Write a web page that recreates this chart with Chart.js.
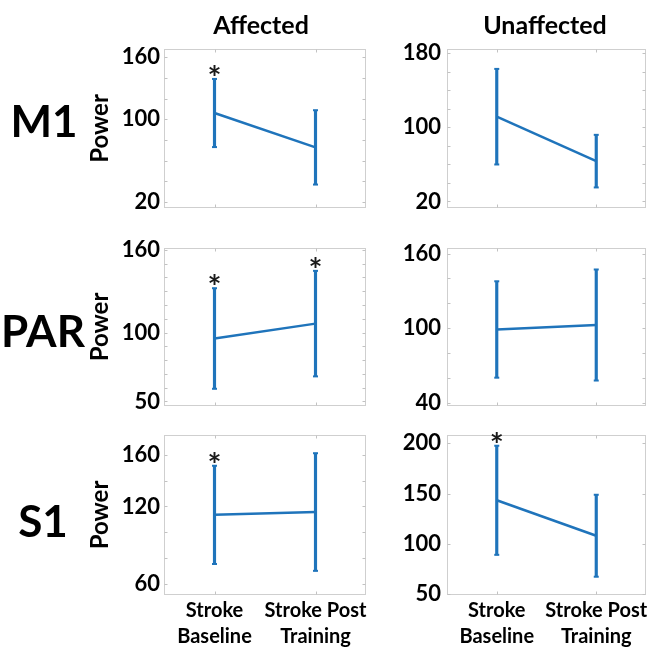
<!DOCTYPE html>
<html>
<head>
<meta charset="utf-8">
<script src="https://cdn.jsdelivr.net/npm/chart.js@4.4.1/dist/chart.umd.min.js"></script>
<style>
  html, body { margin: 0; padding: 0; background: #fff; }
  body { width: 652px; height: 650px; position: relative; overflow: hidden; font-family: Lato, "Open Sans", sans-serif; color: #000; }
  .txt { position: absolute; white-space: nowrap; line-height: 1; font-weight: 700; text-align: center; }
  canvas { position: absolute; }
</style>
</head>
<body>
<div id="stage"></div>
<script>
// Session labels on the x axis
const conditions = [['Stroke', 'Baseline'], ['Stroke Post', 'Training']];
const regions = ['M1', 'PAR', 'S1'];
const sides = ['Affected', 'Unaffected'];

// Mean power and standard deviation: [baseline, post training]
const m1AffectedMean = [106.1, 72.8];
const m1AffectedSd = [33.0, 36.0];
const m1UnaffectedMean = [111.5, 63.5];
const m1UnaffectedSd = [51.6, 28.4];
const parAffectedMean = [95.7, 106.5];
const parAffectedSd = [36.5, 38.3];
const parUnaffectedMean = [98.9, 102.5];
const parUnaffectedSd = [38.8, 44.7];
const s1AffectedMean = [113.5, 115.7];
const s1AffectedSd = [38.0, 45.5];
const s1UnaffectedMean = [143.3, 108.0];
const s1UnaffectedSd = [54.3, 40.8];

// Significant differences (asterisk above the bar)
const m1AffectedSig = [true, false];
const m1UnaffectedSig = [false, false];
const parAffectedSig = [true, true];
const parUnaffectedSig = [false, false];
const s1AffectedSig = [true, false];
const s1UnaffectedSig = [true, false];

// Labelled y ticks
const m1AffectedTicks = [20, 100, 160];
const m1UnaffectedTicks = [20, 100, 180];
const parAffectedTicks = [50, 100, 160];
const parUnaffectedTicks = [40, 100, 160];
const s1AffectedTicks = [60, 120, 160];
const s1UnaffectedTicks = [50, 100, 150, 200];

const BLUE = '#1f74bb';
const FONT = 'Lato';

const columns = [
  { left: 86, width: 286, axisW: 78, pad: 4, title: true, rightPad: 3 },
  { left: 372, width: 280, axisW: 75, pad: 6, title: false, rightPad: 2 }
];
const rows = [
  { top: 30, padTop: 19, boxH: 161, xH: 4, showX: false },
  { top: 228, padTop: 20, boxH: 160, xH: 4, showX: false },
  { top: 416, padTop: 19, boxH: 160, xH: 55, showX: true }
];

const panels = [
  { r: 0, c: 0, mean: m1AffectedMean, sd: m1AffectedSd, sig: m1AffectedSig, ticks: m1AffectedTicks, min: 14.1, max: 168.1, step: 20 },
  { r: 0, c: 1, mean: m1UnaffectedMean, sd: m1UnaffectedSd, sig: m1UnaffectedSig, ticks: m1UnaffectedTicks, min: 12.9, max: 184.6, step: 20 },
  { r: 1, c: 0, mean: parAffectedMean, sd: parAffectedSd, sig: parAffectedSig, ticks: parAffectedTicks, min: 46.7, max: 161.4, step: 10 },
  { r: 1, c: 1, mean: parUnaffectedMean, sd: parUnaffectedSd, sig: parUnaffectedSig, ticks: parUnaffectedTicks, min: 37.3, max: 164.5, step: 20 },
  { r: 2, c: 0, mean: s1AffectedMean, sd: s1AffectedSd, sig: s1AffectedSig, ticks: s1AffectedTicks, min: 51.5, max: 175.3, step: 20 },
  { r: 2, c: 1, mean: s1UnaffectedMean, sd: s1UnaffectedSd, sig: s1UnaffectedSig, ticks: s1UnaffectedTicks, min: 49.0, max: 208.3, step: 50 }
];

// Axes box with small inward tick marks
const framePlugin = {
  id: 'frame',
  beforeDatasetsDraw(chart, args, opts) {
    const { ctx, chartArea: a, scales: { x, y } } = chart;
    const L = Math.round(a.left) + 0.5, R = Math.round(a.right) - 0.5;
    const T = Math.round(a.top) + 0.5, B = Math.round(a.bottom) - 0.5;
    ctx.save();
    ctx.lineWidth = 1;
    ctx.strokeStyle = '#cfcfcf';
    ctx.strokeRect(L, T, R - L, B - T);
    ctx.strokeStyle = '#c2c2c2';
    ctx.beginPath();
    for (let v = Math.ceil(y.min / opts.step) * opts.step; v <= y.max; v += opts.step) {
      const py = Math.round(y.getPixelForValue(v)) + 0.5;
      ctx.moveTo(L, py); ctx.lineTo(L + 3, py);
      ctx.moveTo(R, py); ctx.lineTo(R - 3, py);
    }
    for (let i = 0; i < conditions.length; i++) {
      const px = Math.round(x.getPixelForValue(i)) + 0.5;
      ctx.moveTo(px, T); ctx.lineTo(px, T + 3);
      ctx.moveTo(px, B); ctx.lineTo(px, B - 3);
    }
    ctx.stroke();
    ctx.restore();
  }
};

// Asterisks above significant error bars
const starPlugin = {
  id: 'stars',
  afterDatasetsDraw(chart, args, opts) {
    const { ctx, scales: { x, y } } = chart;
    ctx.save();
    ctx.font = `bold 33px ${FONT}`;
    ctx.fillStyle = '#1a1a1a';
    ctx.textAlign = 'center';
    ctx.textBaseline = 'alphabetic';
    const m = ctx.measureText('*');
    const glyphMid = (m.actualBoundingBoxAscent - m.actualBoundingBoxDescent) / 2;
    opts.sig.forEach((on, i) => {
      if (!on) return;
      const px = x.getPixelForValue(i);
      const top = y.getPixelForValue(opts.mean[i] + opts.sd[i]);
      ctx.fillText('*', px, top - 9 + glyphMid);
    });
    ctx.restore();
  }
};

const stage = document.getElementById('stage');

function addText(str, size, cx, top) {
  const d = document.createElement('div');
  d.className = 'txt';
  d.textContent = str;
  d.style.fontSize = size + 'px';
  d.style.left = (cx - 100) + 'px';
  d.style.width = '200px';
  d.style.top = top + 'px';
  document.body.appendChild(d);
}

addText(sides[0], 25, 261, 12);
addText(sides[1], 25, 545, 12);
addText(regions[0], 44, 44, 97.7);
addText(regions[1], 44, 43, 307.7);
addText(regions[2], 44, 43, 497.7);

panels.forEach(p => {
  const col = columns[p.c], row = rows[p.r];
  const cv = document.createElement('canvas');
  const h = row.padTop + row.boxH + row.xH;
  cv.width = col.width; cv.height = h;
  cv.style.left = col.left + 'px';
  cv.style.top = row.top + 'px';
  cv.style.width = col.width + 'px';
  cv.style.height = h + 'px';
  stage.appendChild(cv);

  const lows = p.mean.map((m, i) => m - p.sd[i]);
  const highs = p.mean.map((m, i) => m + p.sd[i]);

  new Chart(cv.getContext('2d'), {
    type: 'bar',
    data: {
      labels: conditions,
      datasets: [
        {
          type: 'bar',
          data: lows.map((lo, i) => [lo, highs[i]]),
          backgroundColor: BLUE,
          borderWidth: 0,
          barThickness: 2.5
        },
        {
          type: 'line',
          data: lows,
          showLine: false,
          pointStyle: 'line',
          pointRadius: 2.5,
          pointBorderWidth: 2,
          pointBorderColor: BLUE,
          borderColor: BLUE
        },
        {
          type: 'line',
          data: highs,
          showLine: false,
          pointStyle: 'line',
          pointRadius: 2.5,
          pointBorderWidth: 2,
          pointBorderColor: BLUE,
          borderColor: BLUE
        },
        {
          type: 'line',
          data: p.mean,
          borderColor: BLUE,
          borderWidth: 2.5,
          pointRadius: 0,
          fill: false,
          tension: 0
        }
      ]
    },
    options: {
      responsive: false,
      animation: false,
      devicePixelRatio: 1,
      layout: { padding: { top: row.padTop, right: col.rightPad, bottom: 0, left: 0 } },
      plugins: {
        legend: { display: false },
        tooltip: { enabled: false },
        frame: { step: p.step },
        stars: { sig: p.sig, mean: p.mean, sd: p.sd }
      },
      scales: {
        x: {
          type: 'category',
          offset: true,
          afterFit: s => { s.height = row.xH; s.paddingLeft = 0; s.paddingRight = 0; },
          grid: { display: false, drawTicks: false },
          border: { display: false },
          ticks: {
            display: row.showX,
            font: { family: FONT, size: 20, weight: 'bold', lineHeight: 1.3 },
            color: '#000',
            padding: 3,
            maxRotation: 0,
            autoSkip: false
          }
        },
        y: {
          min: p.min,
          max: p.max,
          afterBuildTicks: s => { s.ticks = p.ticks.map(v => ({ value: v })); },
          afterFit: s => { s.width = col.axisW; s.paddingTop = 0; s.paddingBottom = 0; },
          grid: { display: false, drawTicks: false },
          border: { display: false },
          ticks: {
            font: { family: FONT, size: 22, weight: 'bold' },
            color: '#000',
            padding: col.pad
          },
          title: {
            display: col.title,
            text: 'Power',
            font: { family: FONT, size: 24, weight: 'bold' },
            color: '#000',
            padding: 0
          }
        }
      }
    },
    plugins: [framePlugin, starPlugin]
  });
});
</script>
</body>
</html>
